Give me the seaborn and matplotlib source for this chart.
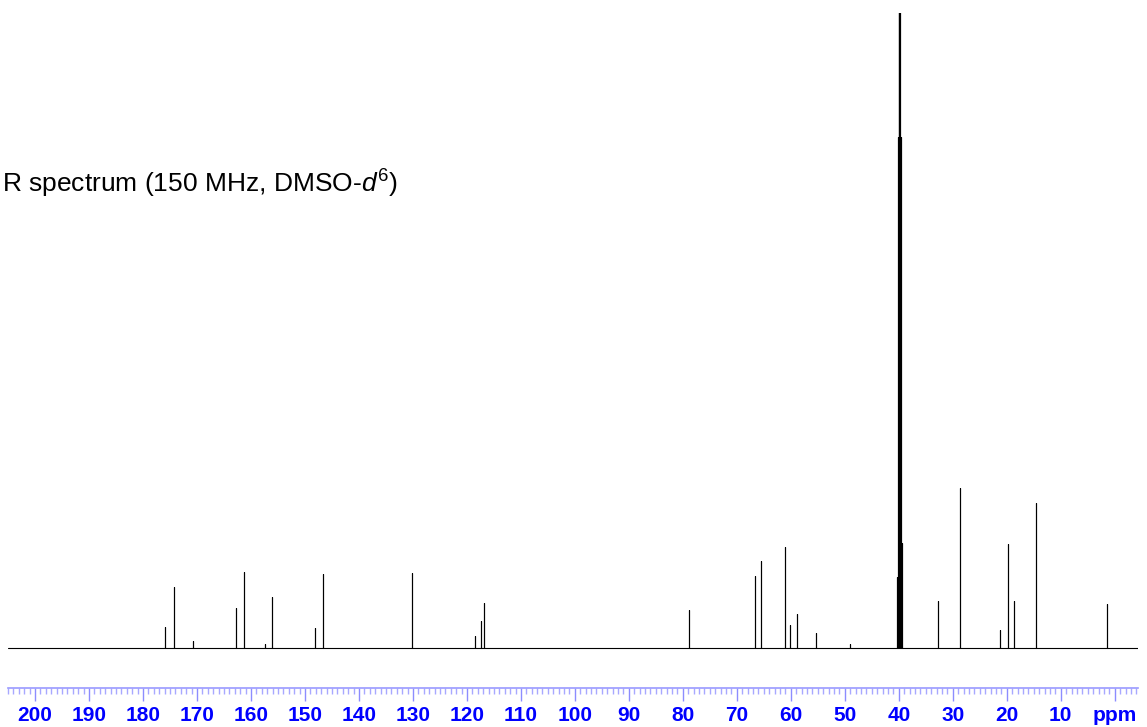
import numpy as np
import pandas as pd
import matplotlib
matplotlib.use("Agg")
import matplotlib.pyplot as plt
from matplotlib.ticker import MultipleLocator, FuncFormatter
import seaborn as sns

# peak list (ppm, height in screen units)
peak_ppm = [175.9, 174.3, 170.7, 162.8, 161.2, 157.4, 156.1, 148.1, 146.6, 130.2,
            118.5, 117.3, 116.8, 78.9, 66.7, 65.6, 61.1, 60.2, 58.9, 55.3, 49.0,
            32.7, 28.6, 21.2, 19.7, 18.6, 14.6, 1.5]
peak_height = [21, 61, 7, 40, 76, 4, 51, 20, 74, 75,
               12, 27, 45, 38, 72, 87, 101, 23, 34, 15, 4,
               47, 160, 18, 104, 47, 145, 44]

# DMSO-d6 septet (goes off the top)
dmso_ppm = [40.32, 40.18, 40.04, 39.90, 39.76, 39.62, 39.48]
dmso_height = [71, 511, 900, 1000, 900, 511, 105]

x_left, x_right = 205.0, -4.3
title = "R spectrum (150 MHz, DMSO-$\\mathit{d}^{\\mathrm{6}}$)"

sns.set_style("white")
plt.rcParams['font.family'] = ['Liberation Sans', 'DejaVu Sans']
plt.rcParams['mathtext.fontset'] = 'custom'
plt.rcParams['mathtext.rm'] = 'Liberation Sans'
plt.rcParams['mathtext.it'] = 'Liberation Sans:italic'

peaks = pd.DataFrame({'ppm': peak_ppm + dmso_ppm, 'h': peak_height + dmso_height})
peaks = peaks.sort_values('ppm', ascending=False)

# stick spectrum as one continuous trace
xs, ys = [x_left], [0]
for p, h in zip(peaks['ppm'], peaks['h']):
    xs += [p, p, p]
    ys += [0, h, 0]
xs.append(x_right)
ys.append(0)
trace = pd.DataFrame({'ppm': xs, 'intensity': ys})

fig = plt.figure(figsize=(11.47, 7.27), dpi=100)
ax = fig.add_axes([8 / 1147, 39 / 727, 1130 / 1147, 675 / 727])
sns.lineplot(data=trace, x='ppm', y='intensity', sort=False, estimator=None,
             color='black', linewidth=0.8, ax=ax)

ax.set_xlim(x_left, x_right)
ax.set_ylim(-40, 635)
for s in ['left', 'right', 'top']:
    ax.spines[s].set_visible(False)
ax.spines['bottom'].set_color('#9a9aff')
ax.spines['bottom'].set_linewidth(1.2)
ax.set_yticks([])
ax.set_xlabel('')
ax.set_ylabel('')

ax.xaxis.set_major_locator(MultipleLocator(10))
ax.xaxis.set_minor_locator(MultipleLocator(1))
ax.xaxis.set_major_formatter(FuncFormatter(lambda v, pos: 'ppm' if abs(v) < 1e-6 else '%d' % v))
ax.tick_params(axis='x', which='both', bottom=True)
ax.tick_params(axis='x', which='major', direction='out', length=9, width=1,
               color='#8c8cff', labelcolor='#0000ff', labelsize=15, pad=4)
ax.tick_params(axis='x', which='minor', direction='out', length=4.5, width=1,
               color='#a8a8ff')
for lbl in ax.get_xticklabels():
    lbl.set_fontweight('bold')

fig.text(0.002, (727 - 193) / 727, title, fontsize=19, color='black',
         ha='left', va='baseline')

plt.savefig('out.png', dpi=100)
